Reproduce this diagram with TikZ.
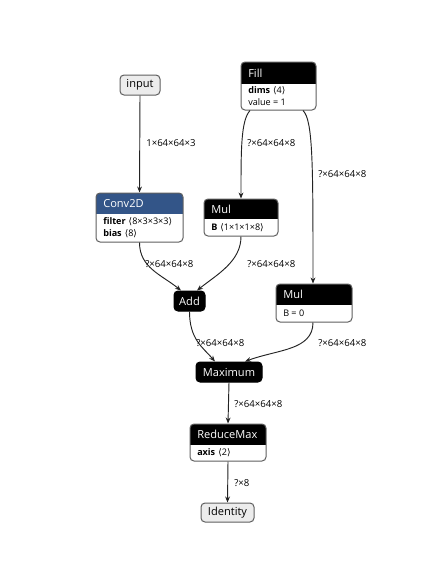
\documentclass[tikz,border=0pt]{standalone}
\usepackage{fontspec}
\setmainfont{Open Sans}
\newfontfamily\symf{DejaVu Sans}
\usetikzlibrary{calc,arrows.meta}
\definecolor{convblue}{RGB}{51,85,136}
\definecolor{bord}{RGB}{95,95,95}
\definecolor{inp}{RGB}{236,236,236}
\definecolor{edgec}{RGB}{35,35,35}
\newcommand\la{{\symf\char"27E8}}
\newcommand\ra{{\symf\char"27E9}}
\tikzset{
  box/.style={draw=bord, line width=0.75pt, rounded corners=3pt, inner sep=0pt},
  titletext/.style={font=\fontsize{8.3}{9}\selectfont, text=white, anchor=west, inner sep=0pt},
  attr/.style={font=\fontsize{6.8}{8}\selectfont, anchor=west, inner sep=0pt},
  elabel/.style={font=\fontsize{7.2}{8}\selectfont, anchor=west, inner sep=0pt},
  edge/.style={draw=edgec, line width=0.7pt, -{Stealth[length=4.5pt,width=3.6pt]}},
}
\newcommand\opnode[8]{%
  \begin{scope}
    \clip[rounded corners=3pt] (#2,#3) rectangle (#4,#5);
    \fill[white] (#2,#3) rectangle (#4,#5);
    \fill[#7] (#2,#3) rectangle (#4,#6);
  \end{scope}
  \node[box, minimum width={(#4-#2)*0.75pt}, minimum height={(#5-#3)*0.75pt}] (#1) at ({(#2+#4)/2},{(#3+#5)/2}) {};
  \node[titletext] (#1-t) at ({#2+7},{(#3+#6)/2}) {#8};
}
\begin{document}
\begin{tikzpicture}[x=0.75pt,y=-0.75pt]
\useasboundingbox[fill=white] (0,0) rectangle (444,572);

% simple nodes
\node[box, fill=inp, minimum width={40*0.75pt}, minimum height={20*0.75pt}, font=\fontsize{8.3}{9}\selectfont] (input) at (140,85) {input};
\node[box, fill=inp, minimum width={53*0.75pt}, minimum height={19*0.75pt}, font=\fontsize{8.3}{9}\selectfont] (ident) at (227.5,512.5) {Identity};
\node[box, draw=black, fill=black, text=white, minimum width={31*0.75pt}, minimum height={20*0.75pt}, font=\fontsize{8.3}{9}\selectfont] (add) at (189.5,301) {Add};
\node[box, draw=black, fill=black, text=white, minimum width={66*0.75pt}, minimum height={20*0.75pt}, font=\fontsize{8.3}{9}\selectfont] (max) at (229,372) {Maximum};

% ops with header
\opnode{fill}{241}{62}{316}{110}{84}{black}{Fill}
\node[attr] (fill-a1) at (248,91) {\textbf{dims}\,\,\la4\ra};
\node[attr] (fill-a2) at (248,102.5) {value = 1};

\opnode{conv}{96}{193}{183}{242}{214}{convblue}{Conv2D}
\node[attr] (conv-a1) at (103,221.5) {\textbf{filter}\,\,\la8×3×3×3\ra};
\node[attr] (conv-a2) at (103,233.5) {\textbf{bias}\,\,\la8\ra};

\opnode{mula}{204}{199}{278}{236}{219}{black}{Mul}
\node[attr] (mula-a1) at (211,227.5) {\textbf{B}\,\,\la1×1×1×8\ra};

\opnode{mulb}{276}{284}{352}{322}{305}{black}{Mul}
\node[attr] (mulb-a1) at (283,313.5) {B = 0};

\opnode{rmax}{190}{424}{266}{461}{445}{black}{ReduceMax}
\node[attr] (rmax-a1) at (197,452.5) {\textbf{axis}\,\,\la2\ra};

% edges
\draw[edge] (input.south) -- (conv.north);
\draw[edge] ($(fill.south)+(-28.5,0)$) .. controls +(-9,10) and +(0,-50) .. ($(mula.north)$);
\draw[edge] ($(fill.south)+(24.5,0)$) .. controls +(10,10) and +(0,-120) .. ($(mulb.north)+(-1,0)$);
\draw[edge] (conv.south) .. controls +(0,25) and +(-20,-16) .. ($(add.north)+(-8.5,0)$);
\draw[edge] (mula.south) .. controls +(0,25) and +(20,-16) .. ($(add.north)+(7.5,0)$);
\draw[edge] (add.south) .. controls +(0,28) and +(-12,-14) .. ($(max.north)+(-14,0)$);
\draw[edge] ($(mulb.south)+(-1,0)$) .. controls +(0,28) and +(32,-12) .. ($(max.north)+(16,0)$);
\draw[edge] (max.south) -- (rmax.north);
\draw[edge] (rmax.south) -- (ident.north);

% edge labels
\node[elabel] (l1) at (146,143) {1×64×64×3};
\node[elabel] (l2) at (247,143) {?×64×64×8};
\node[elabel] (l3) at (318,174) {?×64×64×8};
\node[elabel] (l4) at (145,264) {?×64×64×8};
\node[elabel] (l5) at (247,264) {?×64×64×8};
\node[elabel] (l6) at (196,343.5) {?×64×64×8};
\node[elabel] (l7) at (318,343.5) {?×64×64×8};
\node[elabel] (l8) at (234,404.5) {?×64×64×8};
\node[elabel] (l9) at (234,483) {?×8};
\end{tikzpicture}
\end{document}
